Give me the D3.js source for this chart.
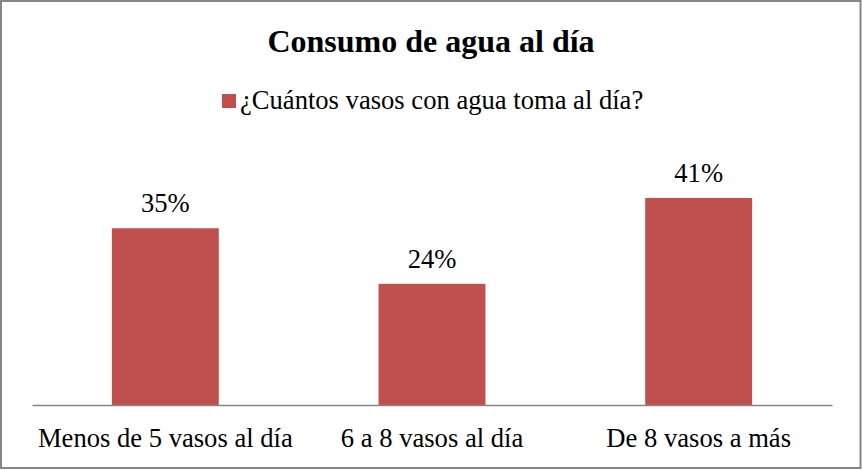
<!DOCTYPE html>
<html>
<head>
<meta charset="utf-8">
<style>
  body { margin: 0; background: #fff; }
  svg text { font-family: "Liberation Serif", "Times New Roman", Times, serif; fill: #000; }
</style>
</head>
<body>
<svg id="chart" width="862" height="470"></svg>
<script src="https://d3js.org/d3.v7.min.js"></script>
<script>
var categories = ["Menos de 5 vasos al día", "6 a 8 vasos al día", "De 8 vasos a más"];
var values = [0.35, 0.24, 0.41];
var seriesName = "¿Cuántos vasos con agua toma al día?";
var title = "Consumo de agua al día";

var svg = d3.select("#chart");
var W = 862, H = 470;
var margin = {left: 32, right: 30};
var baseY = 405;
var fs = 26.6;

// outer frame
svg.append("rect")
  .attr("x", 1).attr("y", 1)
  .attr("width", W - 2.5).attr("height", H - 3)
  .attr("fill", "#fff")
  .attr("stroke", "#868686")
  .attr("stroke-width", 2);

var x = d3.scaleBand()
  .domain(categories)
  .range([margin.left, W - margin.right])
  .padding(0);

// ~5.05 px per percent point
var y = d3.scaleLinear()
  .domain([0, 0.45])
  .range([baseY, baseY - 5.05 * 45]);

var barW = x.bandwidth() * 0.401;

svg.append("g").selectAll("rect")
  .data(values)
  .enter().append("rect")
  .attr("x", function(d, i) { return x(categories[i]) + (x.bandwidth() - barW) / 2; })
  .attr("y", function(d) { return y(d); })
  .attr("width", barW)
  .attr("height", function(d) { return baseY - y(d); })
  .attr("fill", "#C0504D");

svg.append("g").selectAll("text")
  .data(values)
  .enter().append("text")
  .attr("x", function(d, i) { return x(categories[i]) + x.bandwidth() / 2; })
  .attr("y", function(d) { return y(d) - 16; })
  .attr("text-anchor", "middle")
  .attr("font-size", fs)
  .text(function(d) { return d3.format(".0%")(d); });

// category axis
var axis = svg.append("g")
  .attr("transform", "translate(0," + baseY + ")")
  .call(d3.axisBottom(x).tickSize(0));
axis.select(".domain").attr("stroke", "#868686").attr("stroke-width", 1.5);
axis.selectAll(".tick text")
  .attr("y", 42)
  .attr("dy", 0)
  .attr("font-size", fs);

// title
svg.append("text")
  .attr("x", W / 2).attr("y", 52)
  .attr("text-anchor", "middle")
  .attr("font-size", 32)
  .attr("font-weight", "bold")
  .text(title);

// legend
var leg = svg.append("g");
leg.append("rect")
  .attr("x", 222).attr("y", 94)
  .attr("width", 14).attr("height", 14)
  .attr("fill", "#C0504D");
leg.append("text")
  .attr("x", 240).attr("y", 109)
  .attr("font-size", fs)
  .text(seriesName);
</script>
</body>
</html>
